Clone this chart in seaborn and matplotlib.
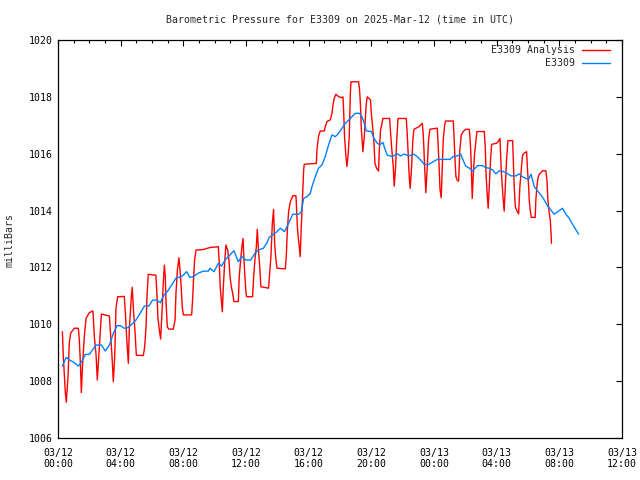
import matplotlib
matplotlib.use("Agg")
import matplotlib.pyplot as plt
import matplotlib.dates as mdates
import numpy as np
import pandas as pd
import seaborn as sns

sns.set_theme(style="white")
plt.rcParams['font.family'] = ['DejaVu Sans Mono']

start = pd.Timestamp("2025-03-12 00:00")

# analysis series (hours after start, mbar)
anal_hours = [0.28, 0.34, 0.47, 0.53, 0.64, 0.72, 0.81, 1.04, 1.30, 1.36, 1.43, 1.49, 1.57, 1.68, 1.79,
              2.00, 2.23, 2.32, 2.43, 2.51, 2.60, 2.68, 2.77, 3.28, 3.34, 3.45, 3.53, 3.62, 3.70, 3.81,
              4.23, 4.30, 4.38, 4.49, 4.55, 4.68, 4.74, 4.83, 4.91, 5.00, 5.45, 5.53, 5.62, 5.68, 5.76,
              6.25, 6.32, 6.38, 6.47, 6.55, 6.64, 6.72, 6.79, 6.85, 6.89, 6.98, 7.08, 7.36, 7.47, 7.53,
              7.62, 7.72, 7.79, 7.85, 7.93, 8.00, 8.53, 8.59, 8.66, 8.72, 8.81, 9.27, 9.70, 10.23, 10.29,
              10.36, 10.44, 10.49, 10.55, 10.64, 10.72, 10.83, 10.91, 10.98, 11.06, 11.15, 11.23, 11.51,
              11.57, 11.66, 11.74, 11.81, 11.87, 11.93, 12.00, 12.04, 12.42, 12.49, 12.57, 12.66, 12.72,
              12.81, 12.89, 12.95, 13.44, 13.51, 13.59, 13.68, 13.76, 13.83, 13.91, 13.98, 14.51, 14.57,
              14.64, 14.72, 14.83, 14.98, 15.19, 15.23, 15.29, 15.40, 15.46, 15.53, 15.61, 15.68, 15.72,
              16.49, 16.53, 16.63, 16.74, 17.00, 17.06, 17.17, 17.38, 17.49, 17.55, 17.63, 17.74, 17.91,
              18.08, 18.19, 18.23, 18.29, 18.38, 18.44, 18.51, 18.59, 18.66, 18.70, 19.19, 19.25, 19.31,
              19.36, 19.46, 19.55, 19.61, 19.68, 19.74, 19.95, 20.00, 20.08, 20.17, 20.23, 20.34, 20.46,
              20.51, 20.59, 20.66, 20.74, 21.17, 21.23, 21.31, 21.40, 21.46, 21.55, 21.61, 21.70, 22.23,
              22.29, 22.36, 22.42, 22.48, 22.57, 22.65, 22.72, 23.04, 23.25, 23.31, 23.36, 23.40, 23.44,
              23.48, 23.57, 23.65, 23.74, 24.21, 24.25, 24.31, 24.38, 24.46, 24.53, 24.59, 24.68, 24.74,
              25.23, 25.27, 25.34, 25.40, 25.48, 25.57, 25.65, 25.74, 25.87, 26.02, 26.25, 26.31, 26.36,
              26.40, 26.44, 26.51, 26.59, 26.67, 26.74, 27.21, 27.27, 27.33, 27.40, 27.46, 27.53, 27.61,
              27.68, 28.00, 28.10, 28.21, 28.25, 28.29, 28.36, 28.42, 28.48, 28.55, 28.63, 28.72, 29.02,
              29.06, 29.12, 29.19, 29.27, 29.40, 29.48, 29.57, 29.65, 29.78, 29.91, 29.97, 30.04, 30.08,
              30.14, 30.21, 30.46, 30.50, 30.57, 30.63, 30.72, 30.93, 31.14, 31.21, 31.27, 31.36, 31.42,
              31.46, 31.50]
anal_mb = [1009.74, 1008.86, 1007.58, 1007.26, 1008.16, 1009.34, 1009.69, 1009.86, 1009.86, 1009.45,
           1008.63, 1007.60, 1008.60, 1009.56, 1010.21, 1010.41, 1010.47, 1009.56, 1008.92, 1008.04,
           1008.86, 1009.56, 1010.36, 1010.29, 1009.80, 1008.86, 1007.98, 1008.86, 1010.56, 1010.97,
           1010.98, 1010.39, 1009.56, 1008.63, 1009.80, 1010.97, 1011.30, 1010.39, 1009.80, 1008.91,
           1008.90, 1009.20, 1009.90, 1010.97, 1011.76, 1011.72, 1011.00, 1010.20, 1009.80, 1009.48,
           1010.45, 1011.45, 1012.08, 1011.67, 1010.85, 1009.90, 1009.83, 1009.83, 1010.15, 1011.09,
           1011.90, 1012.34, 1011.90, 1011.45, 1010.62, 1010.33, 1010.33, 1010.86, 1011.68, 1012.27,
           1012.61, 1012.63, 1012.70, 1012.73, 1012.20, 1011.27, 1010.74, 1010.44, 1011.27, 1012.20,
           1012.79, 1012.61, 1012.27, 1011.68, 1011.33, 1011.09, 1010.80, 1010.80, 1011.68, 1012.27,
           1012.73, 1013.02, 1012.27, 1011.68, 1011.09, 1010.97, 1010.97, 1011.68, 1012.27, 1012.73,
           1013.34, 1012.50, 1011.91, 1011.32, 1011.27, 1011.80, 1012.38, 1013.55, 1014.04, 1012.85,
           1012.26, 1011.97, 1011.95, 1012.38, 1013.32, 1013.96, 1014.31, 1014.52, 1014.52, 1014.02,
           1013.32, 1012.73, 1012.38, 1013.44, 1014.49, 1015.43, 1015.63, 1015.66, 1016.15, 1016.62,
           1016.80, 1016.80, 1016.95, 1017.13, 1017.19, 1017.42, 1017.71, 1017.95, 1018.09, 1018.01,
           1017.97, 1018.00, 1017.54, 1016.60, 1015.90, 1015.55, 1015.90, 1016.60, 1018.13, 1018.53,
           1018.53, 1018.24, 1017.66, 1016.89, 1016.07, 1016.60, 1017.19, 1017.77, 1018.00, 1017.89,
           1017.42, 1016.95, 1016.37, 1015.66, 1015.48, 1015.39, 1016.13, 1016.84, 1017.01, 1017.24,
           1017.24, 1016.71, 1016.13, 1015.54, 1014.86, 1015.54, 1016.36, 1017.24, 1017.24, 1016.71,
           1015.89, 1015.19, 1014.78, 1015.54, 1016.48, 1016.86, 1016.95, 1017.07, 1016.71, 1016.13,
           1015.54, 1015.07, 1014.63, 1015.54, 1016.48, 1016.86, 1016.90, 1016.48, 1015.78, 1014.78,
           1014.45, 1015.54, 1016.48, 1017.01, 1017.15, 1017.15, 1016.71, 1015.78, 1015.19, 1015.07,
           1015.03, 1016.13, 1016.66, 1016.78, 1016.86, 1016.86, 1016.48, 1015.89, 1015.19, 1014.43,
           1015.30, 1016.00, 1016.40, 1016.78, 1016.78, 1016.25, 1015.20, 1014.55, 1014.08, 1014.84,
           1015.78, 1016.33, 1016.37, 1016.43, 1016.54, 1016.01, 1015.43, 1014.84, 1014.37, 1013.98,
           1014.84, 1015.78, 1016.46, 1016.46, 1015.78, 1014.84, 1014.14, 1014.02, 1013.88, 1014.84,
           1015.43, 1015.95, 1016.03, 1016.07, 1015.43, 1014.84, 1014.37, 1014.02, 1013.76, 1013.76,
           1014.37, 1014.84, 1015.13, 1015.28, 1015.40, 1015.40, 1015.07, 1014.37, 1013.90, 1013.67,
           1013.32, 1012.85]

# station observations
obs_hours = [0.28, 0.53, 0.72, 1.04, 1.30, 1.43, 1.57, 1.74, 2.00, 2.23, 2.43, 2.77, 3.02, 3.28, 3.53,
             3.77, 3.98, 4.23, 4.44, 4.77, 4.98, 5.30, 5.51, 5.79, 6.04, 6.30, 6.53, 6.76, 6.98, 7.25,
             7.53, 7.89, 8.21, 8.42, 8.64, 8.96, 9.27, 9.59, 9.70, 9.96, 10.23, 10.44, 10.66, 10.98,
             11.23, 11.51, 11.72, 12.00, 12.30, 12.57, 12.78, 13.10, 13.32, 13.49, 13.98, 14.19, 14.46,
             14.72, 14.98, 15.36, 15.53, 15.68, 15.89, 16.10, 16.21, 16.42, 16.63, 16.85, 17.06, 17.27,
             17.49, 17.70, 17.91, 18.12, 18.34, 18.66, 18.97, 19.25, 19.40, 19.55, 19.68, 20.00, 20.17,
             20.38, 20.53, 20.74, 20.85, 21.02, 21.34, 21.65, 21.87, 22.08, 22.40, 22.68, 22.93, 23.14,
             23.36, 23.61, 23.89, 24.21, 25.02, 25.23, 25.48, 25.70, 25.85, 26.02, 26.29, 26.44, 26.57,
             26.78, 27.10, 27.31, 27.53, 27.74, 27.95, 28.16, 28.38, 28.59, 28.91, 29.23, 29.44, 29.65,
             29.87, 30.04, 30.19, 30.29, 30.40, 30.61, 30.82, 31.04, 31.25, 31.46, 31.67, 31.89, 32.21,
             32.42, 32.63, 32.84, 33.06, 33.23]
obs_mb = [1008.53, 1008.84, 1008.75, 1008.65, 1008.53, 1008.63, 1008.73, 1008.94, 1008.94, 1009.12,
          1009.27, 1009.27, 1009.06, 1009.27, 1009.68, 1009.95, 1009.95, 1009.86, 1009.88, 1010.03,
          1010.15, 1010.44, 1010.64, 1010.64, 1010.85, 1010.85, 1010.76, 1011.03, 1011.15, 1011.38,
          1011.62, 1011.68, 1011.85, 1011.65, 1011.68, 1011.80, 1011.87, 1011.87, 1011.97, 1011.85,
          1012.14, 1012.05, 1012.26, 1012.44, 1012.59, 1012.20, 1012.38, 1012.26, 1012.26, 1012.50,
          1012.61, 1012.67, 1012.85, 1013.06, 1013.26, 1013.38, 1013.26, 1013.55, 1013.87, 1013.87,
          1013.96, 1014.43, 1014.49, 1014.60, 1014.84, 1015.19, 1015.49, 1015.61, 1015.90, 1016.31,
          1016.66, 1016.60, 1016.72, 1016.89, 1017.07, 1017.24, 1017.42, 1017.42, 1017.30, 1017.07,
          1016.80, 1016.78, 1016.54, 1016.37, 1016.31, 1016.40, 1016.19, 1015.95, 1015.90, 1016.00,
          1015.92, 1015.99, 1015.92, 1015.99, 1015.90, 1015.78, 1015.64, 1015.61, 1015.70, 1015.80,
          1015.80, 1015.90, 1015.92, 1015.99, 1015.78, 1015.57, 1015.48, 1015.39, 1015.46, 1015.58,
          1015.58, 1015.51, 1015.49, 1015.43, 1015.29, 1015.40, 1015.38, 1015.33, 1015.22, 1015.22,
          1015.29, 1015.19, 1015.13, 1015.10, 1015.28, 1015.07, 1014.84, 1014.69, 1014.55, 1014.37,
          1014.16, 1014.02, 1013.87, 1013.96, 1014.08, 1013.87, 1013.73, 1013.52, 1013.32, 1013.17]

anal = pd.DataFrame({"time": start + pd.to_timedelta(anal_hours, unit="h"), "mb": anal_mb})
obs = pd.DataFrame({"time": start + pd.to_timedelta(obs_hours, unit="h"), "mb": obs_mb})

fig = plt.figure(figsize=(6.4, 4.8), dpi=100)
ax = fig.add_axes([58/640, 1-438/480, 564/640, 398/480])

sns.lineplot(data=anal, x="time", y="mb", ax=ax, color="#ff0000", lw=1, label="E3309 Analysis")
sns.lineplot(data=obs, x="time", y="mb", ax=ax, color="#0080ff", lw=1, label="E3309")

ax.set_xlim(start, start + pd.Timedelta(hours=36))
ax.set_ylim(1006, 1020)
ax.set_yticks(np.arange(1006, 1021, 2))
ax.xaxis.set_major_locator(mdates.HourLocator(byhour=[0, 4, 8, 12, 16, 20]))
ax.xaxis.set_minor_locator(mdates.HourLocator())
ax.xaxis.set_major_formatter(mdates.DateFormatter("%m/%d\n%H:%M"))

ax.tick_params(which="both", direction="in", top=True, right=True, colors="black", labelsize=7.1)
ax.tick_params(which="major", length=4.5, width=0.8)
ax.tick_params(which="minor", length=2.2, width=0.8)
ax.tick_params(axis="x", pad=7)
ax.tick_params(axis="y", pad=4)
for s in ax.spines.values():
    s.set_color("black")
    s.set_linewidth(0.9)

ax.set_xlabel("")
ax.set_ylabel("")
fig.text(10/640, 1-240/480, "milliBars", rotation=90, ha="center", va="center", fontsize=7.1)
fig.text(340/640, 1-20/480, "Barometric Pressure for E3309 on 2025-Mar-12 (time in UTC)",
         ha="center", va="center", fontsize=7.1)

ax.legend(loc="upper right", bbox_to_anchor=((610-58)/564, (438-45)/398), frameon=False,
          markerfirst=False, fontsize=7.1, handlelength=2.8, handletextpad=0.7,
          borderpad=0, borderaxespad=0, labelspacing=0.35)

fig.savefig("out.png", dpi=100, facecolor="white")
